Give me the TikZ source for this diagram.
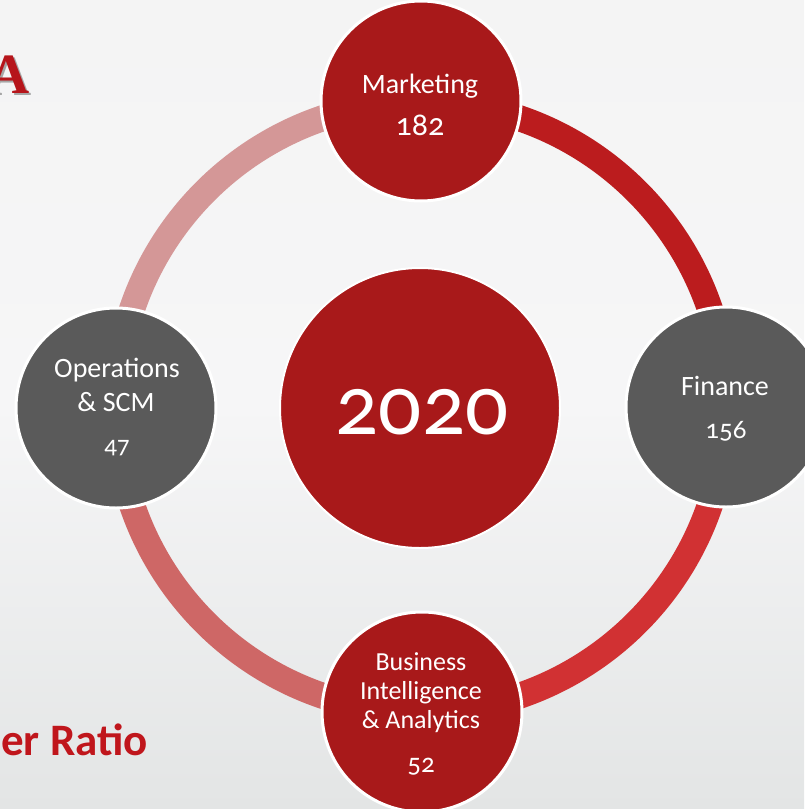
\documentclass[tikz,border=0pt]{standalone}
\usepackage{fontspec}
\setmainfont{Carlito}[Numbers=OldStyle]
\newfontfamily\serifA{Liberation Serif}
\definecolor{bgtop}{HTML}{F4F4F4}
\definecolor{bgmid}{HTML}{F6F6F7}
\definecolor{bgbot}{HTML}{E3E5E5}
\definecolor{ringTL}{HTML}{D49797}
\definecolor{ringTR}{HTML}{BB1C1E}
\definecolor{ringBR}{HTML}{D13133}
\definecolor{ringBL}{HTML}{CE6766}
\definecolor{redc}{HTML}{A8191A}
\definecolor{grayc}{HTML}{5A5A5A}
\definecolor{titlered}{HTML}{C0161C}
\begin{document}
\begin{tikzpicture}[x=1pt,y=-1pt,
  bubble/.style={circle,draw=white,line width=3pt,minimum size=200pt,inner sep=0pt},
  ringseg/.style={line width=26pt},
  lbl/.style={text=white,anchor=base,inner sep=0pt}]
\useasboundingbox (0,0) rectangle (804,809);
\shade[top color=bgtop,bottom color=bgbot,middle color=bgmid] (0,0) rectangle (804,809);
% ring
\coordinate (rc) at (421,407);
\draw[ringseg,ringTL] (421,102) arc[start angle=90,end angle=180,radius=305pt];
\draw[ringseg,ringTR] (421,102) arc[start angle=90,end angle=0,radius=305pt];
\draw[ringseg,ringBR] (726,407) arc[start angle=0,end angle=-90,radius=305pt];
\draw[ringseg,ringBL] (116,407) arc[start angle=180,end angle=270,radius=305pt];
% circles
\node[bubble,fill=redc,minimum size=280pt,line width=2pt] (center) at (420,408) {};
\node[bubble,fill=redc] (mkt) at (421,101) {};
\node[bubble,fill=grayc] (fin) at (726,407) {};
\node[bubble,fill=grayc] (ops) at (116,408) {};
\node[bubble,fill=redc] (bia) at (422,712) {};
% labels
\node[lbl,font=\fontsize{85}{90}\selectfont] (yr) at (422,434) {2020};
\node[lbl,font=\fontsize{28}{30}\selectfont] (mkt1) at (420,93) {Marketing};
\node[lbl,font=\fontsize{32}{34}\selectfont] (mkt2) at (420,135) {182};
\node[lbl,font=\fontsize{28}{30}\selectfont] (fin1) at (725,395) {Finance};
\node[lbl,font=\fontsize{27}{30}\selectfont] (fin2) at (726,438) {156};
\node[lbl,font=\fontsize{28}{30}\selectfont] (ops1) at (117,377) {Operations};
\node[lbl,font=\fontsize{28}{30}\selectfont] (ops2) at (116,411) {\& SCM};
\node[lbl,font=\fontsize{25}{30}\selectfont] (ops3) at (117,453) {47};
\node[lbl,font=\fontsize{26}{30}\selectfont] (bia1) at (421,670) {Business};
\node[lbl,font=\fontsize{26}{30}\selectfont] (bia2) at (421,699) {Intelligence};
\node[lbl,font=\fontsize{26}{30}\selectfont] (bia3) at (421,728) {\& Analytics};
\node[lbl,font=\fontsize{27}{30}\selectfont] (bia4) at (421,772) {52};
% cut-off titles
\node[anchor=base east,inner sep=0pt,text=black!35,font=\serifA\bfseries\fontsize{57}{60}\selectfont] (Ash) at (32,95) {A};
\node[anchor=base east,inner sep=0pt,text=titlered!95!black,font=\serifA\bfseries\fontsize{57}{60}\selectfont] (A) at (30,93) {A};
\node[anchor=base east,inner sep=0pt,text=titlered,font=\bfseries\fontsize{45}{48}\selectfont] (ratio) at (148,755) {er Ratio};
\end{tikzpicture}
\end{document}
